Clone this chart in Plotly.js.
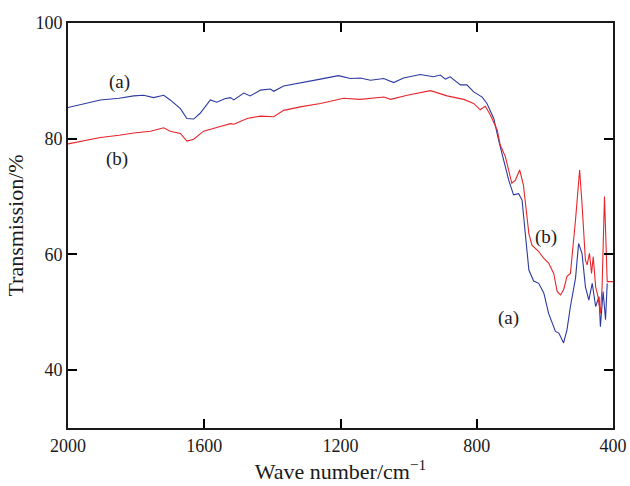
<!DOCTYPE html>
<html><head><meta charset="utf-8">
<script src="https://cdn.plot.ly/plotly-3.0.1.min.js"></script>
<style>html,body{margin:0;padding:0;background:#fff}#c{width:630px;height:486px}</style>
</head><body><div id="c"></div>
<script>
const waveA = [2000,1905,1850,1807,1778,1749,1719,1700,1670,1651,1631,1612,1582,1563,1540,1523,1513,1484,1465,1435,1406,1396,1367,1318,1259,1206,1171,1142,1112,1073,1044,1015,966,927,907,892,878,848,829,809,784,770,750,736,721,706,692,677,667,657,647,633,618,603,589,569,559,545,535,525,510,501,491,481,471,461,451,441,437,429,422,417];
const transA = [85.4,86.7,87.0,87.4,87.5,87.1,87.5,86.7,85.2,83.5,83.4,84.4,86.7,86.3,86.9,87.1,86.7,87.9,87.4,88.4,88.6,88.2,89.1,89.6,90.3,90.9,90.4,90.5,90.1,90.4,89.7,90.5,91.1,90.7,91.0,90.3,90.7,89.3,89.3,88.1,87.2,86.1,83.5,79.8,76.3,72.8,70.3,70.5,69.4,63.6,57.3,55.4,55.0,53.3,49.8,46.7,46.4,44.7,47.0,51.0,55.9,61.9,60.2,54.4,52.1,55.0,51.0,52.7,47.5,53.6,48.7,55.0];
const waveB = [2000,1905,1850,1807,1758,1719,1700,1670,1651,1631,1602,1573,1553,1523,1513,1474,1435,1396,1367,1318,1259,1191,1142,1073,1053,1004,936,887,838,809,790,775,760,740,731,716,697,687,674,663,653,647,638,618,603,589,574,564,554,545,535,525,510,498,491,481,476,469,463,458,451,444,437,432,425,419,417,400];
const transB = [79.1,80.2,80.6,81.0,81.3,81.9,81.3,80.9,79.6,79.9,81.3,81.7,82.1,82.6,82.5,83.5,83.9,83.8,84.9,85.5,86.1,87.0,86.8,87.2,86.8,87.5,88.3,87.4,86.8,86.1,85.0,85.6,84.1,81.5,78.9,76.9,72.3,72.8,74.6,72.0,67.1,63.6,61.6,60.5,59.3,58.5,56.7,53.6,53.0,53.9,56.2,56.7,66.0,74.6,68.8,59.0,58.2,60.2,56.7,59.6,54.4,52.7,49.8,54.4,70.0,60.8,55.3,55.3];
const xTicks = [2000,1600,1200,800,400];
const yTicks = [40,60,80,100];

const serif = '"Liberation Serif","Times New Roman",serif';
const ink = '#1a1a1a';
const traces = [
  {x: waveA, y: transA, type:'scatter', mode:'lines', line:{color:'#2a3aa0', width:1.1}, name:'(a)'},
  {x: waveB, y: transB, type:'scatter', mode:'lines', line:{color:'#e8252a', width:1.1}, name:'(b)'}
];
const ann = (x,y,t)=>({x:x,y:y,xref:'x',yref:'y',text:t,showarrow:false,font:{family:serif,size:19,color:ink}});
const base = {showline:true, linecolor:ink, linewidth:2, showgrid:false, zeroline:false};
const layout = {
  width:630, height:486,
  margin:{l:68,r:17,t:23,b:58},
  paper_bgcolor:'#fff', plot_bgcolor:'#fff',
  showlegend:false,
  font:{family:serif, size:18, color:ink},
  xaxis:Object.assign({range:[2000,400], tickvals:xTicks, ticktext:xTicks.map(String),
    ticks:'inside', ticklen:9, tickwidth:2, tickcolor:'#000', mirror:'ticks',
    tickfont:{family:serif,size:18,color:ink},
    title:{text:'Wave number/cm<sup>\u22121</sup>', font:{family:serif,size:22,color:ink}, standoff:6}}, base),
  yaxis:Object.assign({range:[30,100], tickvals:yTicks, ticktext:yTicks.map(String),
    ticks:'inside', ticklen:9, tickwidth:2, tickcolor:'#000', mirror:'ticks',
    tickfont:{family:serif,size:18,color:ink},
    title:{text:'Transmission/%', font:{family:serif,size:22,color:ink}, standoff:6}}, base),
  annotations:[ann(1849,89.8,'(a)'), ann(1855,76.5,'(b)'), ann(598,63.0,'(b)'), ann(707,49.0,'(a)')]
};
Plotly.newPlot('c', traces, layout, {displayModeBar:false});
</script></body></html>
